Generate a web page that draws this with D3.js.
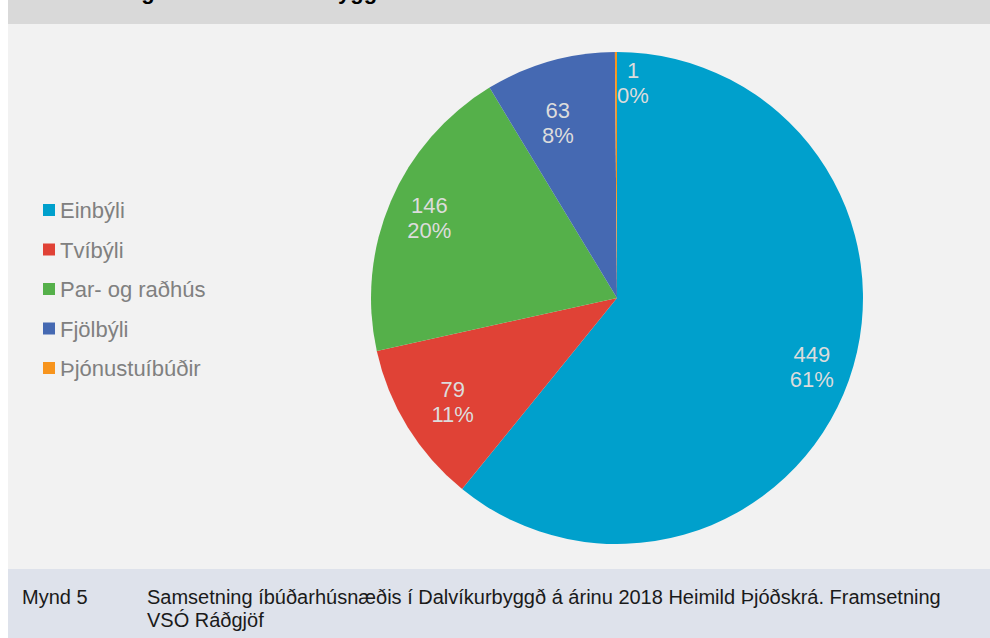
<!DOCTYPE html>
<html>
<head>
<meta charset="utf-8">
<script src="https://cdn.jsdelivr.net/npm/d3@7"></script>
<style>
	body { margin: 0; background: #fff; }
	svg { display: block; font-family: "Liberation Sans", Arial, sans-serif; }
</style>
</head>
<body>
<svg id="chart" width="990" height="638"></svg>
<script>
const categories = ['Einbýli', 'Tvíbýli', 'Par- og raðhús', 'Fjölbýli', 'Þjónustuíbúðir'];
const values = [449, 79, 146, 63, 1];
const percentLabels = ['61%', '11%', '20%', '8%', '0%'];
const colors = ['#00a0cc', '#e04236', '#55b04a', '#4569b2', '#f7941d'];
const titleText = 'Samsetning íbúða í Dalvíkurbyggð';
const captionNumber = 'Mynd 5';
const captionLines = [
	'Samsetning íbúðarhúsnæðis í Dalvíkurbyggð á árinu 2018 Heimild Þjóðskrá. Framsetning',
	'VSÓ Ráðgjöf'
];

const w = 990;
const h = 638;
const cx = 617;
const cy = 298;
const r = 246;

const svg = d3.select('#chart');

// background bands
svg.append('rect')
	.attr('x', 8).attr('y', 0)
	.attr('width', w - 8).attr('height', 24)
	.attr('fill', '#d9d9d9');
svg.append('rect')
	.attr('x', 8).attr('y', 24)
	.attr('width', w - 8).attr('height', 545)
	.attr('fill', '#f2f2f2');
svg.append('rect')
	.attr('x', 8).attr('y', 569)
	.attr('width', w - 8).attr('height', h - 569)
	.attr('fill', '#dee2eb');

// title, cut off at the top of the picture like in the source
svg.append('text')
	.attr('x', 30)
	.attr('y', -1.5)
	.style('font-size', '22px')
	.style('font-weight', 'bold')
	.attr('fill', '#000')
	.text(titleText);

const pie = d3.pie()
	.sort(null)
	.value(d => d);
const arcs = pie(values);

const arc = d3.arc()
	.innerRadius(0)
	.outerRadius(r);

const g = svg.append('g')
	.attr('transform', 'translate(' + cx + ',' + cy + ')');

g.selectAll('path')
	.data(arcs)
	.enter()
	.append('path')
	.attr('d', arc)
	.attr('fill', (d, i) => colors[i]);

// label distance from centre, as a share of the radius, plus a small angle nudge
const labelRadius = [0.84, 0.79, 0.83, 0.75, 0.875];
const labelNudge = [0, -0.01, 0, -0.05, 0];

const labels = g.selectAll('.label')
	.data(arcs)
	.enter()
	.append('text')
	.attr('class', 'label')
	.attr('text-anchor', 'middle')
	.attr('fill', '#dcdcdc')
	.style('font-size', '22px')
	.attr('transform', (d, i) => {
		const a = (d.startAngle + d.endAngle) / 2 + labelNudge[i];
		const lr = r * labelRadius[i];
		let x = Math.sin(a) * lr;
		const y = -Math.cos(a) * lr;
		// tiny slices get their label pushed off to the right of the edge
		if (d.endAngle - d.startAngle < 0.05) x = 16;
		return 'translate(' + x + ',' + y + ')';
	});

labels.append('tspan')
	.attr('x', 0)
	.attr('y', -5)
	.text(d => d.data);
labels.append('tspan')
	.attr('x', 0)
	.attr('y', 20)
	.text((d, i) => percentLabels[i]);

// legend
const legendY = d3.scalePoint()
	.domain(categories)
	.range([210, 368]);

const legend = svg.append('g')
	.attr('id', 'legend');

const items = legend.selectAll('g')
	.data(categories)
	.enter()
	.append('g')
	.attr('transform', d => 'translate(43,' + legendY(d) + ')');

items.append('rect')
	.attr('x', 0)
	.attr('y', -6)
	.attr('width', 12)
	.attr('height', 12)
	.attr('fill', (d, i) => colors[i]);

items.append('text')
	.attr('x', 17)
	.attr('y', 8)
	.attr('fill', '#808080')
	.style('font-size', '22px')
	.text(d => d);

// caption
svg.append('text')
	.attr('x', 22)
	.attr('y', 604)
	.attr('fill', '#1a1a1a')
	.style('font-size', '20px')
	.text(captionNumber);

svg.append('text')
	.attr('fill', '#1a1a1a')
	.style('font-size', '20px')
	.selectAll('tspan')
	.data(captionLines)
	.enter()
	.append('tspan')
	.attr('x', 147)
	.attr('y', (d, i) => 604 + i * 23)
	.text(d => d);
</script>
</body>
</html>
